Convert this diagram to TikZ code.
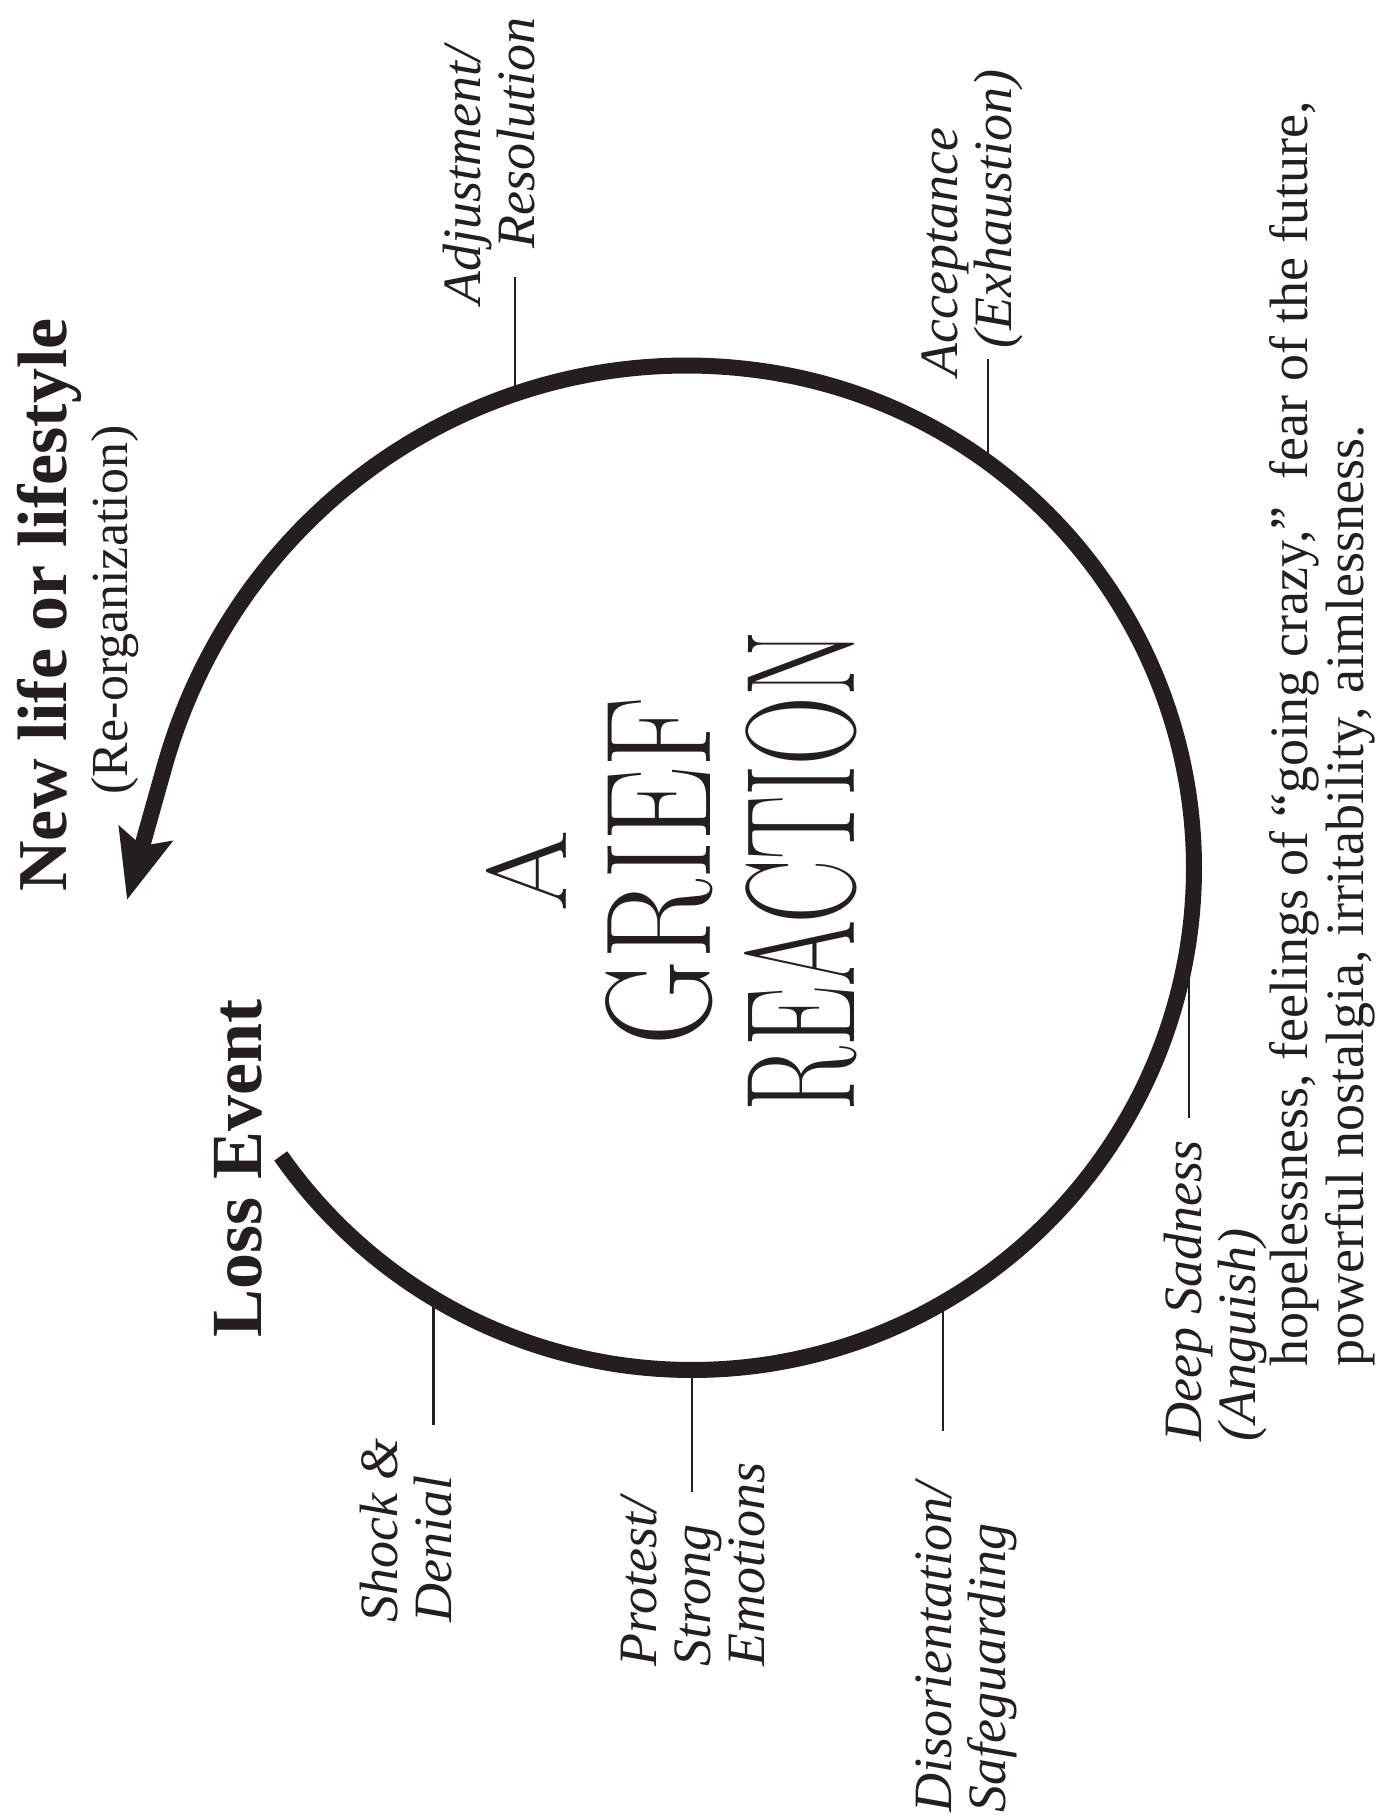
\documentclass[tikz,border=0pt]{standalone}
\usepackage{fontspec}
\usepackage{graphicx}
\setmainfont{Liberation Serif}
\newfontfamily\deco{Latin Modern Roman}
\usetikzlibrary{arrows.meta}
\definecolor{ink}{RGB}{35,31,32}
\begin{document}
\begin{tikzpicture}[x=0.5pt,y=0.5pt,
  lbl/.style={rotate=90, align=left, inner sep=0pt, text=ink,
    font=\fontsize{27}{27}\selectfont\itshape},
  tickline/.style={line width=1.1pt, draw=ink},
  bigbold/.style={rotate=90, inner sep=0pt, text=ink,
    font=\fontsize{35}{40}\selectfont\bfseries},
  spiral/.style={line width=8pt, draw=ink, line join=round,
    -{Stealth[length=34pt,width=27pt,inset=6pt]}}]
\path[use as bounding box] (0,0) rectangle (1388,1817);
\coordinate (C) at (692,949);
\coordinate (tip) at (127,917);
% main spiral arc
\draw[spiral] plot[domain=-145:169, samples=315, variable=\t]
  ({692+(502+0.00442*max(0,\t-80)*max(0,\t-80))*cos(\t)},{949+(502+0.00442*max(0,\t-80)*max(0,\t-80))*sin(\t)}) -- (tip);
% points on the arc
\path (C) ++(110.5:506) coordinate (aAdj);
\path (C) ++(54:504) coordinate (aAcc);
\path (C) ++(-9.5:504) coordinate (aDeep);
\path (C) ++(-60:502) coordinate (aDis);
\path (C) ++(-90:502) coordinate (aProt);
\path (C) ++(-121:502) coordinate (aShock);
% tick ends
\coordinate (eAdj) at (512,1540);
\coordinate (eAcc) at (987,1458);
\coordinate (eDeep) at (1197,699);
\coordinate (eDis) at (944,386);
\coordinate (eProt) at (690,325);
\coordinate (eShock) at (434,392);
% labels
\node[lbl, anchor=north west] (lAdj) at (443,1512) {Adjustment/\\\hspace*{28pt}Resolution};
\node[lbl, anchor=north west] (lAcc) at (921,1440) {Acceptance\\\hspace*{14pt}(Exhaustion)};
\node[lbl, anchor=north west] (lDeep) at (1164,375) {Deep Sadness\\(Anguish)};
\node[lbl, anchor=north west] (lDis) at (915,4) {Disorientation/\\Safeguarding};
\node[lbl, anchor=north west] (lProt) at (620,150) {Protest/\\Strong\\Emotions};
\node[lbl, anchor=north west] (lShock) at (360,194) {Shock \&\\Denial};
% ticks
\draw[tickline] (aAdj) -- (aAdj |- eAdj);
\draw[tickline] (aAcc) -- (aAcc |- eAcc);
\draw[tickline] (aDeep) -- (aDeep |- eDeep);
\draw[tickline] (aDis) -- (aDis |- eDis);
\draw[tickline] (aProt) -- (aProt |- eProt);
\draw[tickline] (aShock) -- (aShock |- eShock);
% headings
\node[bigbold, anchor=north west] (newlife) at (17,925) {New life or lifestyle};
\node[rotate=90, inner sep=0pt, text=ink, font=\fontsize{26}{30}\selectfont] (reorg) at (115,1207) {(Re-organization)};
\node[bigbold, anchor=north west, font=\fontsize{36}{40}\selectfont\bfseries] (loss) at (214,479) {Loss Event};
% description
\node[rotate=90, anchor=north west, align=left, inner sep=0pt, text=ink,
  font=\fontsize{27}{28}\selectfont] (desc) at (1269,450)
  {hopelessness, feelings of “going crazy,”\ \ fear of the future,\\powerful nostalgia, irritability, aimlessness.};
% title
\node[rotate=90, align=center, inner sep=0pt, text=ink,
  font=\deco\fontsize{20}{72}\selectfont] (title) at (672,946)
  {\resizebox{40.5pt}{40pt}{A}\\\resizebox{174pt}{52.5pt}{GRIEF}\\\resizebox{240pt}{55pt}{REACTION}};
\end{tikzpicture}
\end{document}
